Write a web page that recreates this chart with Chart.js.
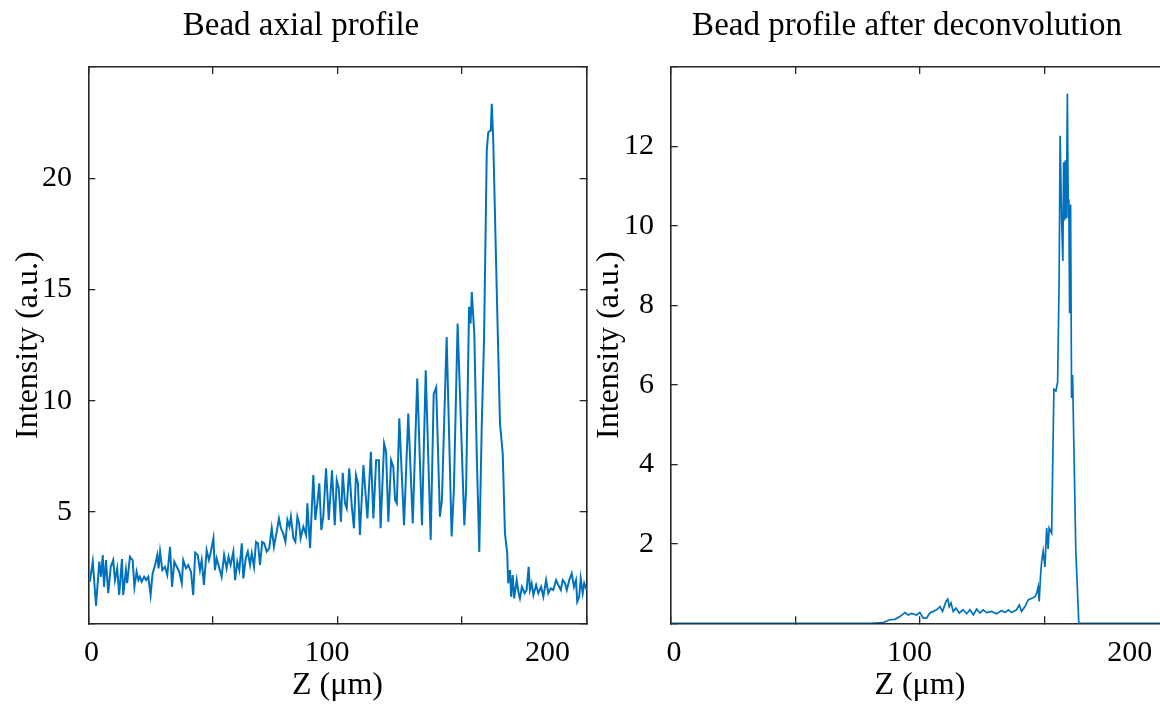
<!DOCTYPE html>
<html>
<head>
<meta charset="utf-8">
<script src="https://cdn.jsdelivr.net/npm/chart.js@4.4.1/dist/chart.umd.min.js"></script>
<style>
    html, body { margin: 0; padding: 0; background: #fff; width: 1160px; height: 706px; overflow: hidden; position: relative; }
    canvas { position: absolute; top: 0; }
    #axialChart { left: 0; }
    #deconvChart { left: 581px; }
</style>
</head>
<body>
<canvas id="axialChart" width="602" height="706"></canvas>
<canvas id="deconvChart" width="652" height="706"></canvas>
<script>
// Left panel: raw bead axial profile
const zAxial = [
    0, 0.7, 1.8, 3.1, 4.4, 5.1, 5.8, 6.3, 7.1, 8.0,
    9.0, 10.0, 10.7, 11.6, 12.4, 13.5, 14.0, 15.1, 15.6, 16.7,
    17.8, 18.5, 19.4, 20.1, 20.7, 21.4, 22.4, 23.2, 24.1, 25.0,
    25.8, 26.8, 27.7, 28.2, 28.8, 29.7, 30.8, 31.7, 32.8, 33.6,
    34.5, 35.5, 36.5, 37.5, 38.1, 39.2, 40.1, 41.2, 42.1, 42.9,
    43.9, 44.8, 45.5, 46.4, 47.5, 48.4, 49.2, 50.2, 50.8, 51.5,
    52.6, 53.5, 54.5, 55.5, 56.3, 57.1, 58.2, 58.9, 59.8, 60.6,
    61.6, 62.2, 63.2, 64.0, 64.9, 65.6, 66.5, 67.3, 68.1, 68.9,
    69.8, 70.6, 71.6, 72.6, 73.6, 74.5, 75.6, 76.5, 77.3, 78.2,
    79.1, 79.9, 80.7, 81.3, 82.3, 83.1, 83.9, 84.6, 85.2, 86.3,
    87.4, 87.9, 89.0, 89.6, 90.3, 91.1, 91.9, 92.7, 93.5, 94.3,
    95.4, 96.5, 97.8, 98.9, 99.7, 100.5, 101.4, 102.1, 103.0, 103.7,
    104.7, 105.7, 106.6, 107.4, 108.2, 109.0, 110.4, 112.0, 113.4, 114.4,
    115.5, 116.6, 117.3, 118.7, 119.5, 120.4, 121.5, 122.4, 123.1, 123.8,
    124.8, 126.7, 128.4, 130.2, 132.0, 133.9, 135.4, 137.4, 138.6, 139.6,
    141.1, 141.9, 143.8, 145.8, 146.7, 148.2, 150.9, 151.6, 152.8, 153.4,
    153.9, 154.9, 155.9, 156.9, 157.9, 158.8, 159.9, 160.5, 161.5, 161.9,
    162.5, 163.9, 165.2, 166.3, 167.2, 168.1, 168.5, 169.2, 169.7, 170.3,
    170.9, 171.9, 172.7, 173.2, 174.0, 175.1, 175.9, 176.7, 177.2, 177.9,
    178.6, 179.7, 180.6, 181.7, 182.6, 183.7, 184.6, 185.6, 186.6, 187.7,
    188.6, 189.6, 190.4, 191.3, 192.0, 193.0, 194.0, 194.9, 195.7, 196.2,
    197.0, 197.6, 198.4, 199.0, 200.0
];
const intensityAxial = [
    2.0, 1.94, 2.77, 0.78, 2.77, 2.09, 3.07, 1.64, 2.84, 1.35,
    2.54, 2.84, 1.94, 2.47, 1.27, 2.89, 1.27, 2.39, 1.80, 2.99,
    2.84, 1.64, 2.32, 1.94, 2.09, 1.87, 2.09, 1.94, 2.09, 1.27,
    2.24, 2.62, 3.07, 2.47, 3.22, 2.39, 2.54, 2.17, 3.44, 1.64,
    2.77, 2.54, 2.32, 1.80, 2.84, 2.47, 2.62, 2.32, 1.27, 3.17,
    3.07, 2.39, 2.84, 1.72, 3.29, 2.84, 3.22, 3.82, 2.39, 2.92,
    2.47, 2.09, 3.07, 2.47, 2.99, 2.62, 3.22, 1.94, 2.77, 2.39,
    3.59, 2.02, 2.92, 3.22, 2.62, 3.14, 2.54, 3.66, 3.59, 2.62,
    3.66, 3.59, 3.22, 3.37, 4.27, 3.44, 4.11, 4.71, 4.27, 4.04,
    3.66, 4.64, 4.34, 4.79, 3.82, 3.66, 4.79, 4.49, 3.82, 4.34,
    3.97, 5.39, 3.37, 4.94, 6.66, 4.64, 5.39, 6.29, 4.19, 4.79,
    6.96, 4.64, 6.88, 4.41, 6.43, 6.06, 4.56, 6.76, 5.39, 5.16,
    6.96, 5.31, 4.27, 6.66, 6.29, 3.97, 7.11, 4.71, 7.71, 4.71,
    7.33, 7.33, 4.27, 8.08, 7.71, 4.56, 7.33, 7.03, 5.54, 5.39,
    9.21, 4.41, 9.43, 4.49, 11.0, 4.41, 11.37, 3.74, 10.3, 10.6,
    4.79, 5.54, 12.87, 3.9, 5.99, 13.47, 4.4, 5.99, 14.22, 13.47,
    14.89, 13.02, 7.48, 3.2, 8.98, 12.72, 21.25, 22.07, 22.15, 23.35,
    21.7, 14.97, 8.98, 7.63, 4.04, 3.14, 1.80, 2.39, 1.19, 2.17,
    1.12, 1.94, 1.35, 1.12, 1.64, 1.35, 1.50, 2.54, 1.50, 1.80,
    1.27, 1.72, 1.35, 1.64, 1.19, 1.94, 1.35, 1.57, 1.50, 1.94,
    1.72, 1.50, 1.94, 1.80, 1.50, 1.94, 2.24, 1.64, 1.94, 0.97,
    1.19, 2.02, 1.35, 1.80, 1.50
];

// Right panel: profile after deconvolution
const zDeconv = [
    0, 20, 40, 60, 80, 85.3, 88.0, 90.0, 92.0, 94.0,
    95.4, 96.7, 98.7, 100.0, 101.4, 102.7, 104.0, 105.4, 106.7, 108.1,
    109.1, 110.5, 111.2, 111.8, 112.5, 113.4, 114.5, 115.8, 117.4, 118.8,
    120.1, 121.5, 122.8, 124.1, 125.4, 126.8, 128.8, 130.8, 132.8, 134.2,
    135.5, 136.8, 138.8, 139.9, 140.8, 142.2, 143.5, 144.9, 146.2, 146.9,
    147.5, 147.9, 148.5, 148.9, 149.5, 150.2, 150.9, 151.5, 151.9, 152.9,
    153.8, 154.6, 155.3, 155.9, 156.3, 156.9, 157.4, 157.7, 158.1, 158.4,
    158.8, 159.2, 159.6, 159.8, 160.1, 160.5, 160.9, 161.3, 162.6, 163.8,
    180, 200
];
const intensityDeconv = [
    0, 0, 0, 0, 0, 0.02, 0.09, 0.10, 0.17, 0.27,
    0.21, 0.25, 0.21, 0.27, 0.13, 0.13, 0.26, 0.30, 0.34, 0.42,
    0.30, 0.55, 0.61, 0.42, 0.51, 0.30, 0.38, 0.26, 0.34, 0.24,
    0.34, 0.21, 0.36, 0.26, 0.34, 0.27, 0.30, 0.24, 0.32, 0.27,
    0.34, 0.27, 0.34, 0.46, 0.30, 0.42, 0.59, 0.63, 0.67, 0.76,
    0.92, 0.55, 1.26, 1.56, 1.82, 1.42, 2.40, 1.87, 2.40, 2.27,
    5.89, 5.85, 6.07, 8.64, 12.27, 10.14, 9.12, 11.6, 10.14, 11.65,
    10.19, 13.33, 10.23, 10.67, 7.80, 10.54, 5.67, 6.25, 1.82, 0,
    0, 0
];

// Tick labels
const xTickLabels = [0, 100, 200];
const yTicksAxial = [5, 10, 15, 20];
const yTicksDeconv = [2, 4, 6, 8, 10, 12];

const FONT = '"Liberation Serif", "Times New Roman", serif';
const AXIS_COLOR = '#262626';
const LINE_COLOR = '#0072BD';
const TICK_LEN = -7;
const FS_TICK = 30, FS_LABEL = 32, FS_TITLE = 33;
const CHART_TOP = 67, CHART_BOTTOM = 623.3, CANVAS_H = 706;

// Inward tick marks, no grid lines
function tickGrid() {
    return { drawOnChartArea: false, drawTicks: true, tickLength: TICK_LEN, color: AXIS_COLOR, lineWidth: 1.3 };
}

function boxBorder() {
    return { display: true, color: AXIS_COLOR, width: 1.6 };
}

// Build one MATLAB-like panel (positions given in page pixels)
function panelConfig(p) {
    const lhTitle = FS_TITLE * 1.2, lhTick = FS_TICK * 1.2, lhLabel = FS_LABEL * 1.2;
    const titleTop = 25.9 - lhTitle / 2;
    // the title spans [0, titleSpan] of the canvas, so it is centred on titleCenter
    const titleSpan = 2 * (p.titleCenter - p.canvasLeft);
    const rightPad = p.canvasWidth - titleSpan;
    const yAxisWidth = p.chartLeft - p.canvasLeft;
    const rightAxisWidth = titleSpan - (p.chartRight - p.canvasLeft);
    return {
        type: 'line',
        data: {
            datasets: [{
                data: p.z.map((x, i) => ({ x: x, y: p.intensity[i] })),
                borderColor: LINE_COLOR,
                borderWidth: p.lineWidth,
                pointRadius: 0,
                tension: 0,
                fill: false
            }]
        },
        options: {
            responsive: false,
            animation: false,
            devicePixelRatio: 1,
            events: [],
            layout: { padding: { left: 0, right: rightPad, top: 0, bottom: 0 } },
            plugins: {
                legend: { display: false },
                tooltip: { enabled: false },
                title: {
                    display: true,
                    text: p.title,
                    color: '#000',
                    font: { family: FONT, size: FS_TITLE, weight: 'normal', lineHeight: 1.2 },
                    padding: { top: titleTop, bottom: CHART_TOP - titleTop - lhTitle }
                }
            },
            scales: {
                x: {
                    type: 'linear', position: 'bottom', weight: 0,
                    min: 0, max: 200,
                    ticks: { stepSize: 50, display: false },
                    grid: tickGrid(), border: boxBorder(),
                    afterFit: s => { s.height = 0; }
                },
                xl: {
                    type: 'linear', position: 'bottom', weight: 1,
                    min: 0, max: 226,
                    ticks: {
                        stepSize: 100, includeBounds: false, autoSkip: false, maxRotation: 0,
                        align: 'start', labelOffset: -4.3,
                        padding: 645.5 - CHART_BOTTOM - lhTick / 2,
                        color: '#000',
                        font: { family: FONT, size: FS_TICK, lineHeight: 1.2 },
                        callback: v => xTickLabels.includes(v) ? String(v) : ''
                    },
                    grid: { display: false },
                    border: { display: false },
                    title: {
                        display: true, text: 'Z (μm)', color: '#000',
                        font: { family: FONT, size: FS_LABEL, lineHeight: 1.2 },
                        padding: { top: 0, bottom: CANVAS_H - 686 - lhLabel / 2 }
                    },
                    afterFit: s => { s.height = CANVAS_H - CHART_BOTTOM; }
                },
                xt: {
                    type: 'linear', position: 'top',
                    min: 0, max: 200,
                    ticks: { stepSize: 50, display: false },
                    grid: tickGrid(), border: boxBorder(),
                    afterFit: s => { s.height = 0; }
                },
                y: {
                    type: 'linear', position: 'left',
                    min: 0, max: p.yMax,
                    ticks: {
                        stepSize: p.yStep, autoSkip: false,
                        padding: p.chartLeft - p.yLabelRight - TICK_LEN,
                        color: '#000',
                        font: { family: FONT, size: FS_TICK, lineHeight: 1.2 },
                        callback: v => p.yTicks.includes(v) ? String(v) : ''
                    },
                    grid: tickGrid(), border: boxBorder(),
                    title: {
                        display: true, text: 'Intensity (a.u.)', color: '#000',
                        font: { family: FONT, size: FS_LABEL, lineHeight: 1.2 },
                        padding: { top: p.yTitleX - p.canvasLeft - lhLabel / 2, bottom: 0 }
                    },
                    afterFit: s => { s.width = yAxisWidth; }
                },
                yr: {
                    type: 'linear', position: 'right',
                    min: 0, max: p.yMax,
                    ticks: { stepSize: p.yStep, display: false },
                    grid: tickGrid(), border: boxBorder(),
                    afterFit: s => { s.width = rightAxisWidth; }
                }
            }
        }
    };
}

document.addEventListener('DOMContentLoaded', () => {
    new Chart(document.getElementById('axialChart'), panelConfig({
        z: zAxial, intensity: intensityAxial, lineWidth: 2.0,
        title: 'Bead axial profile',
        yMax: 25, yStep: 5, yTicks: yTicksAxial,
        canvasLeft: 0, canvasWidth: 602, chartLeft: 88.3, chartRight: 586.7,
        titleCenter: 301, yLabelRight: 72, yTitleX: 29
    }));

    new Chart(document.getElementById('deconvChart'), panelConfig({
        z: zDeconv, intensity: intensityDeconv, lineWidth: 1.7,
        title: 'Bead profile after deconvolution',
        yMax: 14, yStep: 2, yTicks: yTicksDeconv,
        canvasLeft: 581, canvasWidth: 652, chartLeft: 670.7, chartRight: 1169,
        titleCenter: 907, yLabelRight: 654, yTitleX: 610
    }));
});
</script>
</body>
</html>
